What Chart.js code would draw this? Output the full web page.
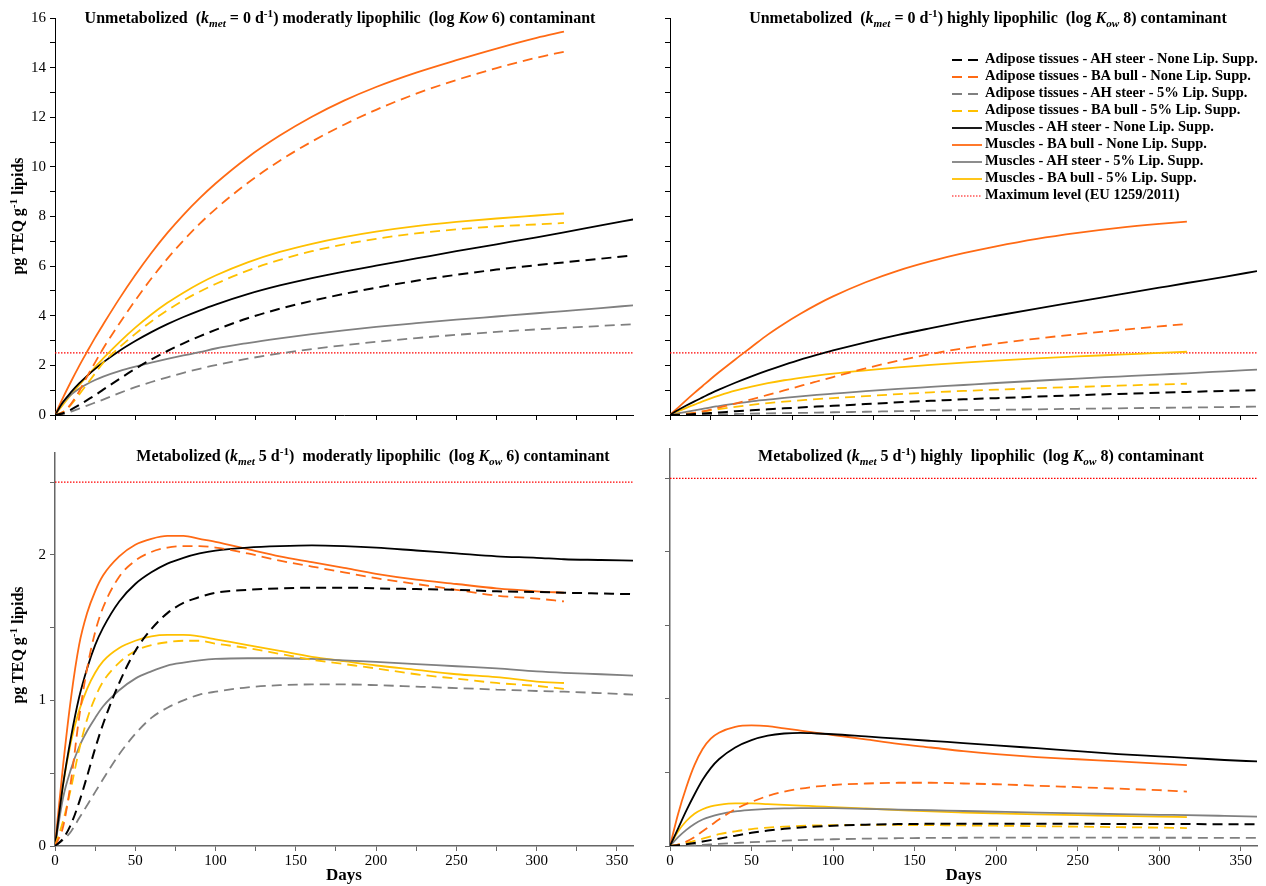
<!DOCTYPE html>
<html>
<head>
<meta charset="utf-8">
<script src="https://cdn.jsdelivr.net/npm/chart.js@4.4.0/dist/chart.umd.min.js"></script>
<style>
body { margin:0; background:#fff; width:1266px; height:886px; position:relative; overflow:hidden; font-family:'Liberation Serif','Times New Roman',serif; }
canvas { position:absolute; }
.ttl { position:absolute; font-weight:bold; font-size:16px; line-height:18px; white-space:nowrap; transform:translateX(-50%); color:#000; }
.ttl sub { font-size:70%; vertical-align:-0.35em; line-height:0; }
.ttl sup { font-size:70%; vertical-align:0.55em; line-height:0; }
.ylab { position:absolute; font-weight:bold; font-size:16px; line-height:18px; white-space:nowrap; transform:translate(-50%,-50%) rotate(-90deg); }
.ylab sup { font-size:70%; vertical-align:0.55em; line-height:0; }
#legend { position:absolute; left:952px; top:50px; font-weight:bold; font-size:14.5px; }
#legend div { height:17px; line-height:17px; white-space:nowrap; }
#legend svg { vertical-align:middle; margin-right:3px; }
</style>
</head>
<body>
<canvas id="c_tl" width="640" height="440" style="left:0;top:0"></canvas>
<canvas id="c_tr" width="626" height="440" style="left:640px;top:0"></canvas>
<canvas id="c_bl" width="640" height="446" style="left:0;top:440px"></canvas>
<canvas id="c_br" width="626" height="446" style="left:640px;top:440px"></canvas>

<div class="ttl" style="left:340px;top:9px">Unmetabolized&nbsp; (<i>k<sub>met</sub></i> = 0 d<sup>-1</sup>) moderatly lipophilic&nbsp; (log <i>Kow</i> 6) contaminant</div>
<div class="ttl" style="left:988px;top:9px">Unmetabolized&nbsp; (<i>k<sub>met</sub></i> = 0 d<sup>-1</sup>) highly lipophilic&nbsp; (log <i>K<sub>ow</sub></i> 8) contaminant</div>
<div class="ttl" style="left:373px;top:447px">Metabolized (<i>k<sub>met</sub></i> 5 d<sup>-1</sup>)&nbsp; moderatly lipophilic&nbsp; (log <i>K<sub>ow</sub></i> 6) contaminant</div>
<div class="ttl" style="left:981px;top:447px">Metabolized (<i>k<sub>met</sub></i> 5 d<sup>-1</sup>) highly&nbsp; lipophilic&nbsp; (log <i>K<sub>ow</sub></i> 8) contaminant</div>
<div class="ylab" style="left:18px;top:216px">pg TEQ g<sup>-1</sup> lipids</div>
<div class="ylab" style="left:18px;top:645px">pg TEQ g<sup>-1</sup> lipids</div>
<div id="legend"></div>

<script>
// days shared by every series; BA bull series stop at day 317 (null after)
var days = [0, 5, 10, 15, 20, 25, 30, 40, 50, 60, 70, 80, 90, 100, 120, 140, 160, 180, 200, 225, 250, 275, 300, 317, 340, 360];
var maxLevel = 2.5;

// Unmetabolized, log Kow 6
var mod0_adiposeAH  = [0, 0.07, 0.22, 0.4, 0.6, 0.8, 1.02, 1.45, 1.86, 2.24, 2.58, 2.89, 3.17, 3.43, 3.9, 4.28, 4.6, 4.88, 5.13, 5.41, 5.65, 5.86, 6.04, 6.15, 6.3, 6.43];
var mod0_adiposeBA  = [0, 0.12, 0.45, 0.95, 1.55, 2.12, 2.68, 3.68, 4.62, 5.5, 6.3, 7.03, 7.7, 8.3, 9.35, 10.25, 11.02, 11.7, 12.3, 12.95, 13.5, 13.98, 14.4, 14.64, null, null];
var mod0_adiposeAH5 = [0, 0.04, 0.14, 0.26, 0.38, 0.5, 0.62, 0.88, 1.12, 1.33, 1.52, 1.7, 1.86, 2.01, 2.27, 2.48, 2.66, 2.81, 2.95, 3.1, 3.23, 3.35, 3.45, 3.51, 3.59, 3.66];
var mod0_adiposeBA5 = [0, 0.12, 0.42, 0.82, 1.25, 1.68, 2.1, 2.72, 3.27, 3.77, 4.22, 4.62, 4.97, 5.28, 5.82, 6.25, 6.6, 6.88, 7.1, 7.32, 7.48, 7.6, 7.68, 7.74, null, null];
var mod0_muscleAH   = [0, 0.52, 0.92, 1.27, 1.58, 1.86, 2.12, 2.58, 2.98, 3.34, 3.66, 3.95, 4.21, 4.45, 4.87, 5.22, 5.52, 5.78, 6.02, 6.31, 6.6, 6.88, 7.16, 7.36, 7.64, 7.88];
var mod0_muscleBA   = [0, 0.7, 1.35, 1.97, 2.55, 3.12, 3.65, 4.68, 5.64, 6.53, 7.34, 8.07, 8.73, 9.33, 10.38, 11.26, 12.02, 12.67, 13.22, 13.8, 14.3, 14.77, 15.2, 15.45, null, null];
var mod0_muscleAH5  = [0, 0.5, 0.82, 1.06, 1.25, 1.41, 1.55, 1.77, 1.95, 2.11, 2.26, 2.4, 2.53, 2.68, 2.9, 3.09, 3.26, 3.41, 3.55, 3.7, 3.84, 3.97, 4.1, 4.19, 4.31, 4.42];
var mod0_muscleBA5  = [0, 0.42, 0.82, 1.2, 1.57, 1.93, 2.28, 2.93, 3.52, 4.05, 4.52, 4.93, 5.3, 5.62, 6.15, 6.57, 6.9, 7.17, 7.39, 7.61, 7.78, 7.92, 8.04, 8.12, null, null];

// Unmetabolized, log Kow 8
var high0_adiposeAH  = [0, 0.01, 0.02, 0.04, 0.06, 0.08, 0.1, 0.15, 0.19, 0.23, 0.27, 0.3, 0.34, 0.37, 0.44, 0.51, 0.57, 0.63, 0.68, 0.74, 0.8, 0.85, 0.9, 0.93, 0.97, 1.0];
var high0_adiposeBA  = [0, 0.01, 0.04, 0.09, 0.15, 0.22, 0.3, 0.46, 0.63, 0.81, 0.99, 1.17, 1.35, 1.53, 1.88, 2.19, 2.46, 2.69, 2.88, 3.08, 3.26, 3.42, 3.57, 3.67, null, null];
var high0_adiposeAH5 = [0, 0, 0.005, 0.01, 0.015, 0.02, 0.025, 0.04, 0.055, 0.065, 0.075, 0.085, 0.095, 0.11, 0.13, 0.155, 0.175, 0.195, 0.21, 0.23, 0.25, 0.27, 0.29, 0.3, 0.32, 0.34];
var high0_adiposeBA5 = [0, 0.02, 0.05, 0.09, 0.14, 0.19, 0.24, 0.33, 0.41, 0.48, 0.54, 0.59, 0.64, 0.68, 0.76, 0.84, 0.91, 0.97, 1.02, 1.08, 1.13, 1.18, 1.23, 1.26, null, null];
var high0_muscleAH   = [0, 0.2, 0.38, 0.55, 0.71, 0.87, 1.02, 1.3, 1.56, 1.8, 2.02, 2.23, 2.42, 2.6, 2.93, 3.23, 3.5, 3.76, 4.0, 4.29, 4.57, 4.85, 5.13, 5.32, 5.57, 5.8];
var high0_muscleBA   = [0, 0.3, 0.6, 0.89, 1.17, 1.45, 1.72, 2.24, 2.74, 3.24, 3.68, 4.08, 4.45, 4.78, 5.35, 5.82, 6.2, 6.52, 6.8, 7.1, 7.34, 7.54, 7.7, 7.79, null, null];
var high0_muscleAH5  = [0, 0.07, 0.13, 0.19, 0.25, 0.31, 0.36, 0.46, 0.55, 0.62, 0.69, 0.75, 0.81, 0.86, 0.96, 1.05, 1.13, 1.21, 1.29, 1.38, 1.47, 1.55, 1.63, 1.68, 1.76, 1.83];
var high0_muscleBA5  = [0, 0.15, 0.29, 0.42, 0.55, 0.67, 0.78, 0.98, 1.14, 1.28, 1.4, 1.5, 1.59, 1.67, 1.8, 1.92, 2.02, 2.11, 2.19, 2.28, 2.36, 2.43, 2.5, 2.55, null, null];

// Metabolized, log Kow 6
var mod5_adiposeAH  = [0, 0.05, 0.15, 0.3, 0.48, 0.67, 0.84, 1.12, 1.34, 1.49, 1.6, 1.67, 1.71, 1.74, 1.76, 1.77, 1.775, 1.775, 1.77, 1.765, 1.76, 1.75, 1.745, 1.74, 1.735, 1.73];
var mod5_adiposeBA  = [0, 0.13, 0.45, 0.88, 1.22, 1.47, 1.64, 1.85, 1.96, 2.02, 2.05, 2.06, 2.06, 2.05, 2.01, 1.96, 1.92, 1.88, 1.84, 1.8, 1.76, 1.72, 1.7, 1.68, null, null];
var mod5_adiposeAH5 = [0, 0.04, 0.1, 0.19, 0.28, 0.37, 0.46, 0.63, 0.77, 0.88, 0.95, 1.0, 1.04, 1.06, 1.09, 1.105, 1.11, 1.11, 1.105, 1.095, 1.085, 1.075, 1.065, 1.06, 1.05, 1.04];
var mod5_adiposeBA5 = [0, 0.17, 0.4, 0.66, 0.87, 1.02, 1.13, 1.26, 1.34, 1.38, 1.4, 1.41, 1.41, 1.39, 1.36, 1.32, 1.28, 1.25, 1.22, 1.18, 1.15, 1.12, 1.1, 1.08, null, null];
var mod5_muscleAH   = [0, 0.42, 0.75, 1.02, 1.22, 1.38, 1.5, 1.68, 1.8, 1.88, 1.94, 1.98, 2.01, 2.03, 2.05, 2.06, 2.065, 2.06, 2.05, 2.03, 2.01, 1.99, 1.98, 1.97, 1.965, 1.96];
var mod5_muscleBA   = [0, 0.55, 1.02, 1.38, 1.6, 1.75, 1.86, 1.99, 2.07, 2.11, 2.13, 2.13, 2.11, 2.09, 2.04, 1.99, 1.95, 1.91, 1.87, 1.83, 1.8, 1.77, 1.75, 1.74, null, null];
var mod5_muscleAH5  = [0, 0.33, 0.53, 0.68, 0.79, 0.88, 0.96, 1.07, 1.15, 1.2, 1.24, 1.26, 1.275, 1.285, 1.29, 1.29, 1.285, 1.275, 1.265, 1.25, 1.235, 1.22, 1.2, 1.19, 1.18, 1.17];
var mod5_muscleBA5  = [0, 0.42, 0.72, 0.93, 1.08, 1.19, 1.27, 1.36, 1.41, 1.44, 1.45, 1.45, 1.44, 1.42, 1.38, 1.34, 1.3, 1.27, 1.24, 1.21, 1.18, 1.16, 1.13, 1.12, null, null];

// Metabolized, log Kow 8
var high5_adiposeAH  = [0, 0.005, 0.012, 0.02, 0.03, 0.04, 0.05, 0.07, 0.09, 0.105, 0.117, 0.126, 0.133, 0.138, 0.145, 0.149, 0.151, 0.152, 0.152, 0.152, 0.151, 0.15, 0.149, 0.149, 0.148, 0.147];
var high5_adiposeBA  = [0, 0.01, 0.03, 0.06, 0.1, 0.14, 0.18, 0.25, 0.3, 0.34, 0.37, 0.39, 0.405, 0.415, 0.425, 0.43, 0.43, 0.425, 0.42, 0.41, 0.4, 0.39, 0.38, 0.37, null, null];
var high5_adiposeAH5 = [0, 0.001, 0.003, 0.005, 0.008, 0.011, 0.014, 0.02, 0.026, 0.031, 0.036, 0.04, 0.043, 0.046, 0.05, 0.053, 0.055, 0.056, 0.057, 0.057, 0.057, 0.057, 0.056, 0.056, 0.055, 0.055];
var high5_adiposeBA5 = [0, 0.01, 0.02, 0.035, 0.05, 0.065, 0.08, 0.1, 0.115, 0.125, 0.132, 0.137, 0.14, 0.142, 0.143, 0.143, 0.142, 0.14, 0.138, 0.135, 0.132, 0.128, 0.125, 0.122, null, null];
var high5_muscleAH   = [0, 0.12, 0.24, 0.35, 0.45, 0.53, 0.59, 0.67, 0.72, 0.75, 0.765, 0.77, 0.765, 0.76, 0.745, 0.73, 0.715, 0.7, 0.685, 0.665, 0.645, 0.625, 0.61, 0.6, 0.585, 0.575];
var high5_muscleBA   = [0, 0.22, 0.4, 0.55, 0.66, 0.73, 0.77, 0.81, 0.82, 0.815, 0.8, 0.785, 0.77, 0.755, 0.725, 0.695, 0.67, 0.645, 0.625, 0.605, 0.59, 0.575, 0.56, 0.55, null, null];
var high5_muscleAH5  = [0, 0.06, 0.11, 0.15, 0.18, 0.2, 0.215, 0.235, 0.245, 0.252, 0.256, 0.258, 0.258, 0.257, 0.253, 0.248, 0.243, 0.238, 0.233, 0.227, 0.222, 0.217, 0.212, 0.21, 0.205, 0.2];
var high5_muscleBA5  = [0, 0.1, 0.17, 0.22, 0.25, 0.27, 0.28, 0.29, 0.29, 0.285, 0.28, 0.275, 0.27, 0.265, 0.255, 0.245, 0.235, 0.228, 0.222, 0.215, 0.21, 0.205, 0.2, 0.197, null, null];

var xTicks = [0, 25, 50, 75, 100, 125, 150, 175, 200, 225, 250, 275, 300, 325, 350];

var labels = [
    'Adipose tissues - AH steer - None Lip. Supp.',
    'Adipose tissues - BA bull - None Lip. Supp.',
    'Adipose tissues - AH steer - 5% Lip. Supp.',
    'Adipose tissues - BA bull - 5% Lip. Supp.',
    'Muscles - AH steer - None Lip. Supp.',
    'Muscles - BA bull - None Lip. Supp.',
    'Muscles - AH steer - 5% Lip. Supp.',
    'Muscles - BA bull - 5% Lip. Supp.',
    'Maximum level (EU 1259/2011)'
];
var colors = ['#000000', '#FF6A14', '#808080', '#FFC000', '#000000', '#FF6A14', '#808080', '#FFC000', '#FF0000'];
var dashes = [[10, 6], [10, 6], [10, 6], [10, 6], [], [], [], [], [1.5, 1.5]];
var widths = [2, 1.8, 1.8, 1.8, 1.8, 1.8, 1.8, 1.8, 1.2];

function points(values) {
    var out = [];
    for (var i = 0; i < days.length; i++) {
        if (values[i] !== null) out.push({x: days[i], y: values[i]});
    }
    return out;
}

function buildDatasets(series) {
    var sets = series.map(function(vals, i) {
        return {
            label: labels[i],
            data: points(vals),
            borderColor: colors[i],
            backgroundColor: 'transparent',
            borderWidth: widths[i],
            borderDash: dashes[i],
            pointRadius: 0,
            cubicInterpolationMode: 'monotone',
            fill: false
        };
    });
    sets.push({
        label: labels[8],
        data: [{x: 0, y: maxLevel}, {x: 360, y: maxLevel}],
        borderColor: colors[8],
        borderWidth: widths[8],
        borderDash: dashes[8],
        pointRadius: 0,
        fill: false
    });
    return sets;
}

var tickFont = {family: "'Liberation Serif', serif", size: 15};

function makeChart(id, series, o) {
    var yTicks = [];
    for (var v = 0; v <= o.yMax + 1e-9; v += o.yStep) yTicks.push(Math.round(v * 100) / 100);
    var ctx = document.getElementById(id).getContext('2d');
    return new Chart(ctx, {
        type: 'line',
        data: {datasets: buildDatasets(series)},
        options: {
            responsive: false,
            animation: false,
            devicePixelRatio: 1,
            layout: {padding: {top: o.padTop, right: o.padRight, left: 0, bottom: 0}},
            plugins: {legend: {display: false}, tooltip: {enabled: false}},
            scales: {
                x: {
                    type: 'linear', min: 0, max: 360,
                    afterBuildTicks: function(s) { s.ticks = xTicks.map(function(t) { return {value: t}; }); },
                    afterFit: function(s) { s.height = o.xHeight; },
                    ticks: {
                        autoSkip: false, maxRotation: 0, display: o.xLabels,
                        color: '#000', font: tickFont, padding: 1,
                        callback: function(v) { return v % 50 === 0 ? v : ''; }
                    },
                    grid: {drawOnChartArea: false, drawTicks: true, tickLength: 5, color: o.axisColor, lineWidth: 1},
                    border: {color: o.axisColor, width: o.axisWidth},
                    title: {display: o.xLabels, text: 'Days', color: '#000',
                        font: {family: "'Liberation Serif', serif", size: 17, weight: 'bold'}, padding: {top: 0, bottom: 0}}
                },
                y: {
                    min: 0, max: o.yMax,
                    afterBuildTicks: function(s) { s.ticks = yTicks.map(function(t) { return {value: t}; }); },
                    afterFit: function(s) { s.width = o.yWidth; },
                    ticks: {
                        autoSkip: false, display: o.yLabels,
                        color: '#000', font: tickFont, padding: 4,
                        callback: function(v) { return Math.abs(v / o.labelEvery - Math.round(v / o.labelEvery)) < 1e-6 ? v : ''; }
                    },
                    grid: {drawOnChartArea: false, drawTicks: true, tickLength: 5, color: o.axisColor, lineWidth: 1},
                    border: {color: o.axisColor, width: o.axisWidth}
                }
            }
        }
    });
}

makeChart('c_tl',
    [mod0_adiposeAH, mod0_adiposeBA, mod0_adiposeAH5, mod0_adiposeBA5, mod0_muscleAH, mod0_muscleBA, mod0_muscleAH5, mod0_muscleBA5],
    {yMax: 16, yStep: 1, labelEvery: 2, xLabels: false, yLabels: true, yWidth: 55, xHeight: 25, padTop: 18, padRight: 7, axisColor: '#000', axisWidth: 1});
makeChart('c_tr',
    [high0_adiposeAH, high0_adiposeBA, high0_adiposeAH5, high0_adiposeBA5, high0_muscleAH, high0_muscleBA, high0_muscleAH5, high0_muscleBA5],
    {yMax: 16, yStep: 1, labelEvery: 2, xLabels: false, yLabels: false, yWidth: 30, xHeight: 25, padTop: 18, padRight: 9, axisColor: '#000', axisWidth: 1});
makeChart('c_bl',
    [mod5_adiposeAH, mod5_adiposeBA, mod5_adiposeAH5, mod5_adiposeBA5, mod5_muscleAH, mod5_muscleBA, mod5_muscleAH5, mod5_muscleBA5],
    {yMax: 2.7, yStep: 0.5, labelEvery: 1, xLabels: true, yLabels: true, yWidth: 55, xHeight: 40, padTop: 9, padRight: 7, axisColor: '#666', axisWidth: 1.5});
makeChart('c_br',
    [high5_adiposeAH, high5_adiposeBA, high5_adiposeAH5, high5_adiposeBA5, high5_muscleAH, high5_muscleBA, high5_muscleAH5, high5_muscleBA5],
    {yMax: 2.7, yStep: 0.5, labelEvery: 1, xLabels: true, yLabels: false, yWidth: 30, xHeight: 40, padTop: 9, padRight: 9, axisColor: '#666', axisWidth: 1.5});

// legend sits inside the top-right panel
var legend = document.getElementById('legend');
labels.forEach(function(text, i) {
    var row = document.createElement('div');
    var dash = dashes[i].length ? ' stroke-dasharray="' + dashes[i].join(',') + '"' : '';
    row.innerHTML = '<svg width="30" height="6"><line x1="0" y1="3" x2="30" y2="3" stroke="' + colors[i] +
        '" stroke-width="' + widths[i] + '"' + dash + '/></svg>' + text;
    legend.appendChild(row);
});
</script>
</body>
</html>
